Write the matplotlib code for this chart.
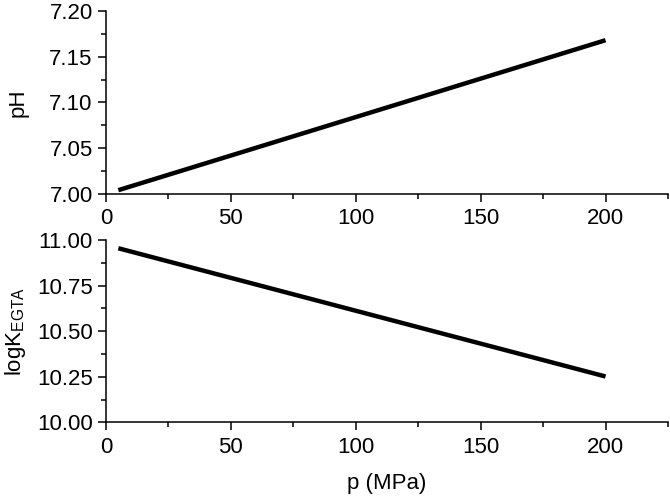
import matplotlib
matplotlib.use('Agg')
import matplotlib.pyplot as plt
from matplotlib.ticker import MultipleLocator, FormatStrFormatter

# data
pressure = [5, 200]
ph_values = [7.004, 7.168]
logk_values = [10.955, 10.252]

plt.rcParams['font.family'] = ['Liberation Sans', 'DejaVu Sans']
plt.rcParams['mathtext.default'] = 'regular'

fig = plt.figure(figsize=(6.7, 4.97), dpi=100, facecolor='white')
ax1 = fig.add_axes([0.158, 0.610, 0.839, 0.368])
ax2 = fig.add_axes([0.158, 0.150, 0.839, 0.367])

for ax in (ax1, ax2):
    for side in ('top', 'right'):
        ax.spines[side].set_visible(False)
    for side in ('left', 'bottom'):
        ax.spines[side].set_linewidth(1.1)
    ax.set_xlim(0, 225)
    ax.xaxis.set_major_locator(MultipleLocator(50))
    ax.xaxis.set_minor_locator(MultipleLocator(25))
    ax.tick_params(which='major', direction='out', length=5.5, width=1.1,
                   labelsize=16, pad=4)
    ax.tick_params(axis='x', which='major', pad=5)
    ax.tick_params(which='minor', direction='out', length=3.5, width=1.1)

ax1.plot(pressure, ph_values, color='black', linewidth=3.2,
         solid_capstyle='butt')
ax1.set_ylim(7.0, 7.2)
ax1.yaxis.set_major_locator(MultipleLocator(0.05))
ax1.yaxis.set_minor_locator(MultipleLocator(0.025))
ax1.yaxis.set_major_formatter(FormatStrFormatter('%.2f'))
ax1.set_ylabel('pH', fontsize=16)

ax2.plot(pressure, logk_values, color='black', linewidth=3.2,
         solid_capstyle='butt')
ax2.set_ylim(10.0, 11.0)
ax2.yaxis.set_major_locator(MultipleLocator(0.25))
ax2.yaxis.set_minor_locator(MultipleLocator(0.125))
ax2.yaxis.set_major_formatter(FormatStrFormatter('%.2f'))
ax2.set_ylabel('logK$_{EGTA}$', fontsize=16)
ax2.set_xlabel('p (MPa)', fontsize=16, labelpad=11)

ax1.yaxis.set_label_coords(-0.138, 0.5)
ax2.yaxis.set_label_coords(-0.138, 0.5)

fig.savefig('out.png', dpi=100, facecolor='white')
